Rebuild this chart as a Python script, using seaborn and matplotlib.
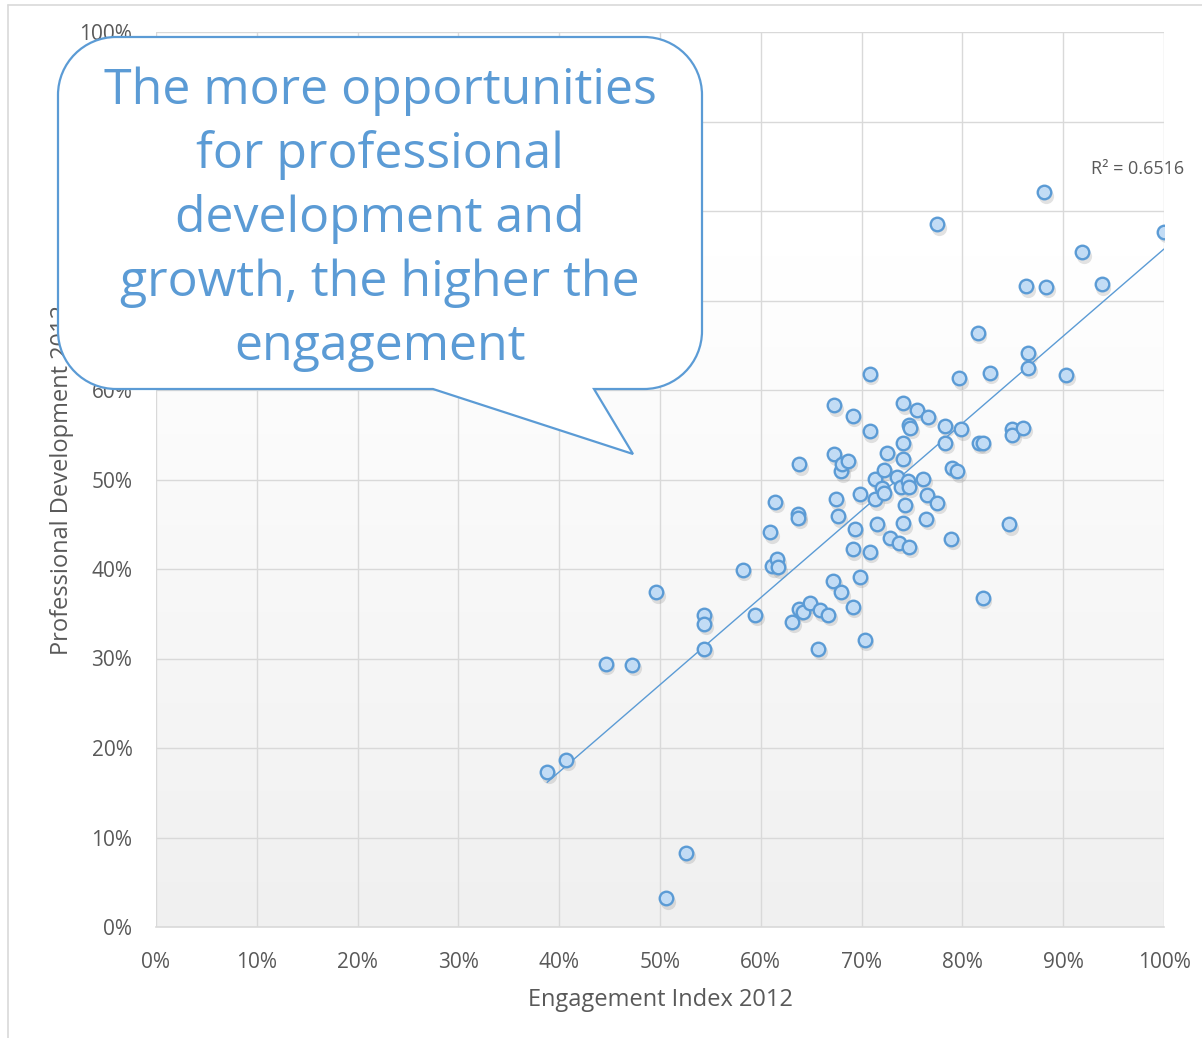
import numpy as np
import pandas as pd
import matplotlib
matplotlib.use("Agg")
import matplotlib.pyplot as plt
from matplotlib.path import Path
from matplotlib.patches import PathPatch
from matplotlib.ticker import FuncFormatter, MultipleLocator
import seaborn as sns

# Engagement Index 2012 (%) per unit
engagement = [
    38.8, 40.7, 44.6, 47.2, 49.6, 52.6, 50.6,
    54.4, 54.4, 54.4, 58.2, 59.4,
    60.9, 61.4, 61.1, 61.6, 61.7,
    63.1, 63.8, 63.7, 63.7, 63.8, 64.2, 64.9, 65.9, 65.7, 66.7,
    67.3, 67.3, 67.2, 67.5, 67.7, 68.0, 68.0, 68.1, 68.7,
    69.1, 69.1, 69.3, 69.1, 69.8, 69.8, 70.3,
    70.8, 70.8, 70.8, 71.3, 71.3, 71.5, 72.0, 72.2, 72.2, 72.5,
    72.8, 73.5, 73.7, 74.1, 74.1, 74.1, 73.9, 74.1, 74.3, 74.6, 74.7,
    74.7, 74.8, 74.7, 75.5, 76.1, 76.5, 76.4, 76.6, 77.5, 77.5,
    78.3, 78.3, 78.9, 79.0, 79.5, 79.7, 79.9,
    81.5, 81.6, 82.0, 82.0, 82.7, 84.6, 84.9, 84.9, 86.0,
    86.3, 86.5, 86.5, 88.1, 88.3, 90.3, 91.9, 93.8, 100.0,
]

# Professional Development 2012 (%) per unit
prof_dev = [
    17.3, 18.7, 29.4, 29.3, 37.4, 8.3, 3.2,
    34.9, 33.9, 31.1, 39.9, 34.9,
    44.1, 47.5, 40.3, 41.1, 40.2,
    34.1, 51.7, 46.1, 45.7, 35.5, 35.2, 36.2, 35.4, 31.1, 34.9,
    58.3, 52.8, 38.7, 47.8, 45.9, 37.4, 50.9, 51.7, 52.1,
    57.1, 42.2, 44.5, 35.8, 48.4, 39.1, 32.1,
    61.8, 55.4, 41.9, 50.1, 47.8, 45.0, 49.1, 48.5, 51.1, 53.0,
    43.5, 50.3, 42.9, 58.5, 54.1, 52.3, 49.2, 45.1, 47.2, 49.8, 49.2,
    56.1, 55.8, 42.5, 57.8, 50.1, 48.3, 45.6, 57.0, 47.4, 78.5,
    56.0, 54.1, 43.4, 51.3, 50.9, 61.3, 55.6,
    66.4, 54.1, 54.1, 36.8, 61.9, 45.0, 55.6, 55.0, 55.8,
    71.6, 64.1, 62.5, 82.1, 71.5, 61.7, 75.4, 71.8, 77.7,
]

r_squared_label = "R\u00b2 = 0.6516"
callout_lines = [
    "The more opportunities",
    "for professional",
    "development and",
    "growth, the higher the",
    "engagement",
]
tick_values = list(range(0, 101, 10))

df = pd.DataFrame({"Engagement Index 2012": engagement,
                   "Professional Development 2012": prof_dev})

sns.set_theme(style="white")
plt.rcParams["font.family"] = ["Open Sans", "DejaVu Sans"]

W, H = 1202, 1038
fig = plt.figure(figsize=(W / 100, H / 100), dpi=100)
fig.patch.set_facecolor("white")

ax = fig.add_axes([156 / W, 1 - 927 / H, (1164 - 156) / W, (927 - 32) / H])
ax.set_xlim(0, 100)
ax.set_ylim(0, 100)

# vertical white-to-grey fill behind the plot area
levels = np.linspace(0, 100, 256)
shade = 240 + 15 * np.clip(levels / 75.0, 0, 1)
grad = np.repeat((shade / 255.0)[:, None], 2, axis=1)
rgb = np.dstack([grad, grad, grad])
ax.imshow(rgb, extent=(0, 100, 0, 100), origin="lower", aspect="auto", zorder=0)

ax.xaxis.set_major_locator(MultipleLocator(10))
ax.yaxis.set_major_locator(MultipleLocator(10))
ax.grid(True, color="#d9d9d9", linewidth=1.0, zorder=1)
ax.set_axisbelow(True)
for side in ["top", "right", "left"]:
    ax.spines[side].set_visible(False)
ax.spines["bottom"].set_color("#d9d9d9")
ax.spines["bottom"].set_linewidth(1.2)

# soft drop shadow under markers
ax.scatter(np.array(engagement) + 0.18, np.array(prof_dev) - 0.38, s=120,
           color="#7f7f7f", alpha=0.22, linewidths=0, zorder=2)

sns.regplot(data=df, x="Engagement Index 2012", y="Professional Development 2012",
            scatter=False, ci=None, truncate=True, ax=ax,
            line_kws=dict(color="#5b9bd5", linewidth=1.0, zorder=3))

sns.scatterplot(data=df, x="Engagement Index 2012", y="Professional Development 2012",
                ax=ax, s=95, color="#c2dcf5", edgecolor="#5b9bd5",
                linewidth=1.7, zorder=4)

ax.set_xlim(0, 100)
ax.set_ylim(0, 100)
ax.set_xticks(tick_values)
ax.set_yticks(tick_values)
fmt = FuncFormatter(lambda v, p: f"{int(round(v))}%")
ax.xaxis.set_major_formatter(fmt)
ax.yaxis.set_major_formatter(fmt)
ax.tick_params(axis="both", length=0, labelsize=15, colors="#595959")
ax.tick_params(axis="x", pad=18)
ax.tick_params(axis="y", pad=17)
ax.set_xlabel("Engagement Index 2012", fontsize=17, color="#595959", labelpad=11)
ax.set_ylabel("Professional Development 2012", fontsize=17, color="#595959", labelpad=4)

ax.text(102.0, 84.7, r_squared_label, ha="right", va="center",
        fontsize=13, color="#595959", clip_on=False, zorder=5)

# overlay in pixel coordinates for the frame and callout
ov = fig.add_axes([0, 0, 1, 1], zorder=10)
ov.set_xlim(0, W)
ov.set_ylim(H, 0)
ov.axis("off")
ov.patch.set_alpha(0)

ov.plot([8, W + 5], [5, 5], color="#d9d9d9", linewidth=1.2)
ov.plot([8, 8], [5, H + 5], color="#d9d9d9", linewidth=1.2)

L, R, T, B, r = 58, 702, 37, 389, 58
k = 0.5523 * r
verts = [
    (L + r, T), (R - r, T),
    (R - r + k, T), (R, T + r - k), (R, T + r),
    (R, B - r),
    (R, B - r + k), (R - r + k, B), (R - r, B),
    (594, B), (633, 454), (433, B),
    (L + r, B),
    (L + r - k, B), (L, B - r + k), (L, B - r),
    (L, T + r),
    (L, T + r - k), (L + r - k, T), (L + r, T),
    (L + r, T),
]
codes = [
    Path.MOVETO, Path.LINETO,
    Path.CURVE4, Path.CURVE4, Path.CURVE4,
    Path.LINETO,
    Path.CURVE4, Path.CURVE4, Path.CURVE4,
    Path.LINETO, Path.LINETO, Path.LINETO,
    Path.LINETO,
    Path.CURVE4, Path.CURVE4, Path.CURVE4,
    Path.LINETO,
    Path.CURVE4, Path.CURVE4, Path.CURVE4,
    Path.CLOSEPOLY,
]
ov.add_patch(PathPatch(Path(verts, codes), facecolor="white", edgecolor="#5b9bd5",
                       linewidth=1.6, joinstyle="miter"))

line_y = [91, 155, 219, 283, 347]
for txt, yy in zip(callout_lines, line_y):
    ov.text(380, yy, txt, ha="center", va="center", fontsize=36, color="#5b9bd5")

fig.savefig("out.png", dpi=100, facecolor="white")
